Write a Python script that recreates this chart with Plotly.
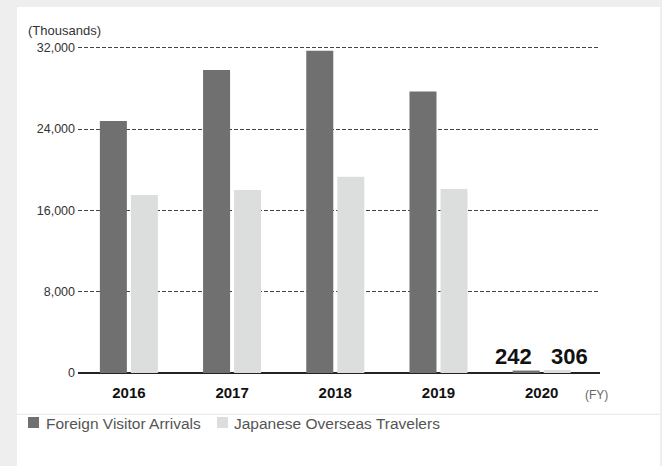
import plotly.graph_objects as go

years = ["2016", "2017", "2018", "2019", "2020"]
foreign_visitors = [24800, 29800, 31700, 27700, 242]
japanese_travelers = [17500, 18000, 19300, 18100, 306]
y_ticks = [0, 8000, 16000, 24000, 32000]
y_tick_text = ["0", "8,000", "16,000", "24,000", "32,000"]
series_names = ["Foreign Visitor Arrivals", "Japanese Overseas Travelers"]
label_2020 = ["242", "306"]

DARK = "#707070"
LIGHT = "#dcdddd"
FONT = "Liberation Sans, Arial, Helvetica, sans-serif"

W_PX, H_PX = 662, 466
L, R, T, B = 78, 600, 45, 373


def px(x):
    return (x - L) / (R - L)


def py(y):
    return (B - y) / (B - T)


fig = go.Figure()
fig.add_trace(go.Bar(x=years, y=foreign_visitors, name=series_names[0],
                     marker=dict(color=DARK, line=dict(width=0))))
fig.add_trace(go.Bar(x=years, y=japanese_travelers, name=series_names[1],
                     marker=dict(color=LIGHT, line=dict(width=0))))

shapes = [
    dict(type="rect", xref="paper", yref="paper", x0=px(17), x1=px(660), y0=py(466), y1=py(7),
         fillcolor="white", line=dict(width=0), layer="below"),
    dict(type="line", xref="paper", yref="paper", x0=px(17), x1=px(660), y0=py(414.3), y1=py(414.3),
         line=dict(color="#e6e6e6", width=1)),
    dict(type="rect", xref="paper", yref="paper", x0=px(28), x1=px(39), y0=py(428), y1=py(417),
         fillcolor=DARK, line=dict(width=0)),
    dict(type="rect", xref="paper", yref="paper", x0=px(217), x1=px(228), y0=py(428), y1=py(417),
         fillcolor=LIGHT, line=dict(width=0)),
]

annotations = [
    dict(text="(Thousands)", xref="paper", yref="paper", x=px(26), y=py(31), xanchor="left",
         yanchor="middle", showarrow=False, font=dict(family=FONT, size=13, color="#333333")),
    dict(text="(FY)", xref="paper", yref="paper", x=px(582.5), y=py(395), xanchor="left",
         yanchor="middle", showarrow=False, font=dict(family=FONT, size=12, color="#666666")),
    dict(text=series_names[0], xref="paper", yref="paper", x=px(43.5), y=py(423), xanchor="left",
         yanchor="middle", showarrow=False, font=dict(family=FONT, size=15.5, color="#555555")),
    dict(text=series_names[1], xref="paper", yref="paper", x=px(231.5), y=py(423), xanchor="left",
         yanchor="middle", showarrow=False, font=dict(family=FONT, size=15.5, color="#555555")),
    dict(text=label_2020[0], xref="x", yref="y", x=4, y=0, xshift=-28, yshift=16.5,
         xanchor="center", yanchor="middle", showarrow=False,
         font=dict(family=FONT, size=22, color="#111111", weight="bold")),
    dict(text=label_2020[1], xref="x", yref="y", x=4, y=0, xshift=28, yshift=16.5,
         xanchor="center", yanchor="middle", showarrow=False,
         font=dict(family=FONT, size=22, color="#111111", weight="bold")),
]

fig.update_layout(
    width=W_PX, height=H_PX,
    margin=dict(l=L, r=W_PX - R, t=T, b=H_PX - B, pad=0),
    paper_bgcolor="#eeeeee", plot_bgcolor="rgba(0,0,0,0)",
    barmode="group", bargap=0.399, bargroupgap=0.129,
    showlegend=False,
    font=dict(family=FONT),
    shapes=shapes, annotations=annotations,
    xaxis=dict(type="category", range=[-0.493, 4.565], showgrid=False, showline=False,
               zeroline=False, ticks="", ticklabelstandoff=9,
               tickfont=dict(family=FONT, size=15, color="#111111", weight="bold")),
    yaxis=dict(range=[0, 32266], tickvals=y_ticks, ticktext=y_tick_text, showline=False, ticks="",
               showgrid=True, gridcolor="#444444", gridwidth=1, griddash="4px,2px",
               zeroline=True, zerolinecolor="#222222", zerolinewidth=1.6, ticklabelstandoff=2,
               tickfont=dict(family=FONT, size=12.5, color="#333333")),
)

fig.write_html("out.html", config={"displayModeBar": False},
               post_script="document.body.style.margin='0';")
